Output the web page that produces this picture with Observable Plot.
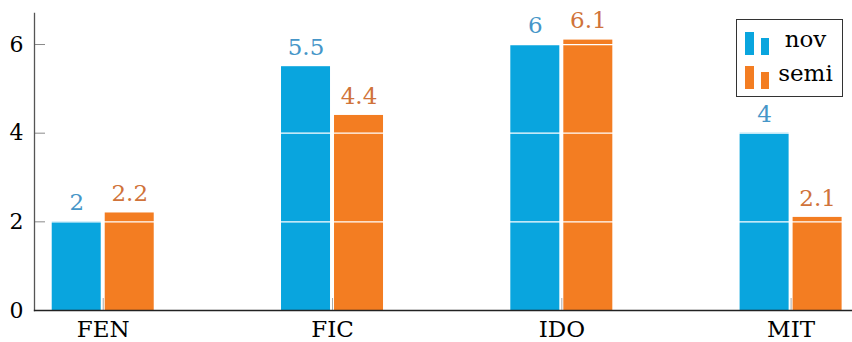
<!DOCTYPE html>
<html><head><meta charset="utf-8">
<script src="https://cdn.jsdelivr.net/npm/d3@7"></script>
<script src="https://cdn.jsdelivr.net/npm/@observablehq/plot@0.6"></script>
<style>
body{margin:0;background:#fff;}
#wrap{position:relative;width:852px;height:342px;font-family:"DejaVu Serif",serif;}
#legend{position:absolute;left:736px;top:19px;width:105px;height:76px;border:1.3px solid #333;background:#fff;}
.row{position:absolute;left:0;width:105px;height:30px;}
.sw{position:absolute;bottom:0;}
.lt{position:absolute;left:32px;right:0;text-align:center;font-size:23px;line-height:27px;color:#000;}
</style></head><body><div id="wrap"><div id="chart"></div><div id="legend"></div></div>
<script>
const categories = ["FEN", "FIC", "IDO", "MIT"];
const seriesNames = ["nov", "semi"];
const novValues = [2, 5.5, 6, 4];
const semiValues = [2.2, 4.4, 6.1, 2.1];
const yTicks = [0, 2, 4, 6];
const barColors = ["#09a5de", "#f37d22"];
const labelColors = ["#4696c8", "#d0733a"];
const FONT = "'DejaVu Serif', serif";

const rows = categories.flatMap((c, i) => [
  {cat: c, series: seriesNames[0], value: novValues[i]},
  {cat: c, series: seriesNames[1], value: semiValues[i]}
]);
const nov = rows.filter(d => d.series === seriesNames[0]);
const semi = rows.filter(d => d.series === seriesNames[1]);

const chart = Plot.plot({
  width: 852, height: 342,
  marginLeft: 34, marginRight: 1, marginTop: 13, marginBottom: 32,
  x: {domain: categories, paddingInner: 0.7863, paddingOuter: 0.1747, align: 0.552, round: false, label: null},
  y: {domain: [0, 6.7], label: null},
  style: {fontFamily: FONT, fontSize: "22px", background: "white", overflow: "visible"},
  marks: [
    Plot.barY(nov, {x: "cat", y: "value", fill: barColors[0], dx: -26.5}),
    Plot.barY(semi, {x: "cat", y: "value", fill: barColors[1], dx: 26.5}),
    Plot.ruleY(yTicks.filter(t => t > 0), {stroke: "white", strokeWidth: 1.2}),
    Plot.text(nov, {x: "cat", y: "value", text: d => String(d.value), dx: -26.5, dy: -19, lineAnchor: "middle", fill: labelColors[0], fontSize: 23, fontFamily: FONT}),
    Plot.text(semi, {x: "cat", y: "value", text: d => String(d.value), dx: 26.5, dy: -19, lineAnchor: "middle", fill: labelColors[1], fontSize: 23, fontFamily: FONT}),
    Plot.axisY({ticks: yTicks, tickSize: -11, fill: "none", stroke: "#8a8a8a"}),
    Plot.axisY({ticks: yTicks, tickFormat: d => String(d), tickSize: 0, tickPadding: 11, fontSize: 22, fill: "black", fontFamily: FONT}),
    Plot.axisX({tickSize: -12, fill: "none", stroke: "#aaa"}),
    Plot.axisX({tickSize: 0, tickPadding: 10, fontSize: 23, fill: "black", fontFamily: FONT}),
    Plot.frame({anchor: "left", stroke: "#555", strokeWidth: 1.3}),
    Plot.frame({anchor: "bottom", stroke: "#222", strokeWidth: 1.3})
  ]
});
document.getElementById("chart").appendChild(chart);

// legend
const legend = document.getElementById("legend");
seriesNames.forEach((name, i) => {
  const row = document.createElement("div");
  row.className = "row";
  row.style.top = (5 + i * 34) + "px";
  const s1 = document.createElement("div");
  s1.className = "sw"; s1.style.left = "8px"; s1.style.width = "9px"; s1.style.height = "23px"; s1.style.background = barColors[i];
  const s2 = document.createElement("div");
  s2.className = "sw"; s2.style.left = "24px"; s2.style.width = "8px"; s2.style.height = "17px"; s2.style.background = barColors[i];
  const t = document.createElement("div");
  t.className = "lt"; t.style.top = "1px"; t.textContent = name;
  row.append(s1, s2, t);
  legend.appendChild(row);
});
</script></body></html>
